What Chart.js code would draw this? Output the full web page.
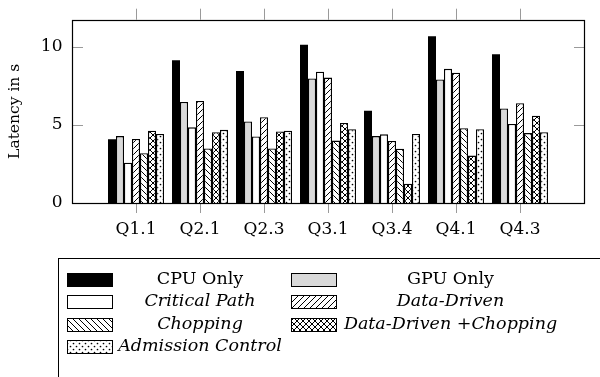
<!DOCTYPE html>
<html>
<head>
<meta charset="utf-8">
<script src="https://cdn.jsdelivr.net/npm/chart.js@4/dist/chart.umd.min.js"></script>
<style>
  html, body { margin: 0; padding: 0; background: #fff; }
  #wrap { width: 600px; height: 377px; }
</style>
</head>
<body>
<div id="wrap"><canvas id="c" width="600" height="377"></canvas></div>
<script>
// Query categories on the x axis
const queries = ['Q1.1', 'Q2.1', 'Q2.3', 'Q3.1', 'Q3.4', 'Q4.1', 'Q4.3'];

// Latency in seconds per strategy
const cpuOnly          = [4.08, 9.15, 8.46, 10.15, 5.92, 10.69, 9.54];
const gpuOnly          = [4.29, 6.48, 5.23, 7.98, 4.29, 7.92, 6.06];
const criticalPath     = [2.58, 4.85, 4.27, 8.42, 4.40, 8.60, 5.06];
const dataDriven       = [4.10, 6.54, 5.50, 8.04, 3.98, 8.35, 6.40];
const chopping         = [3.19, 3.50, 3.50, 4.00, 3.48, 4.79, 4.48];
const dataDrivenChop   = [4.63, 4.54, 4.58, 5.13, 1.23, 3.04, 5.60];
const admissionControl = [4.42, 4.69, 4.63, 4.73, 4.42, 4.73, 4.54];

const seriesNames = ['CPU Only', 'GPU Only', 'Critical Path', 'Data-Driven',
                     'Chopping', 'Data-Driven +Chopping', 'Admission Control'];
const seriesItalic = [false, false, true, true, true, true, true];

// y axis ticks and range
const yTicks = [0, 5, 10];
const yMax = 11.75;

const SERIF = "'DejaVu Serif', 'Liberation Serif', serif";

// ---- fill patterns -------------------------------------------------------
function makePattern(draw, size) {
  const c = document.createElement('canvas');
  c.width = size; c.height = size;
  const g = c.getContext('2d');
  g.fillStyle = '#fff';
  g.fillRect(0, 0, size, size);
  g.strokeStyle = '#000';
  g.fillStyle = '#000';
  g.lineWidth = 1;
  draw(g, size);
  return document.createElement('canvas').getContext('2d').createPattern(c, 'repeat');
}
function diagNE(g, s) {   // "/" lines
  g.beginPath();
  g.moveTo(-1, s + 1); g.lineTo(s + 1, -1);
  g.moveTo(-1, 1); g.lineTo(1, -1);
  g.moveTo(s - 1, s + 1); g.lineTo(s + 1, s - 1);
  g.stroke();
}
function diagNW(g, s) {   // "\" lines
  g.beginPath();
  g.moveTo(-1, -1); g.lineTo(s + 1, s + 1);
  g.moveTo(s - 1, -1); g.lineTo(s + 1, 1);
  g.moveTo(-1, s - 1); g.lineTo(1, s + 1);
  g.stroke();
}
const patNE = makePattern(diagNE, 6);
const patNW = makePattern(diagNW, 6);
const patCross = makePattern((g, s) => { diagNE(g, s); diagNW(g, s); }, 6);
const patDots = makePattern((g, s) => {
  g.beginPath(); g.arc(1.5, 1.5, 0.85, 0, Math.PI * 2); g.fill();
  g.beginPath(); g.arc(4.5, 4.5, 0.85, 0, Math.PI * 2); g.fill();
}, 6);

const fills = ['#000000', '#d9d9d9', '#ffffff', patNE, patNW, patCross, patDots];
const values = [cpuOnly, gpuOnly, criticalPath, dataDriven, chopping, dataDrivenChop, admissionControl];

// empty slot on each side of the categories
const labels = [''].concat(queries, ['']);
const pad = arr => [null].concat(arr, [null]);

const datasets = seriesNames.map((name, i) => ({
  label: name,
  data: pad(values[i]),
  backgroundColor: fills[i],
  borderColor: '#000',
  // solid black bars need no separate outline
  borderWidth: i === 0 ? 0 : 1.3,
  borderSkipped: 'bottom',
  italic: seriesItalic[i]
}));

// ---- frame and tick marks ---------------------------------------------------
const framePlugin = {
  id: 'frame',
  afterDatasetsDraw(chart) {
    const { ctx, chartArea: a, scales: { x, y } } = chart;
    ctx.save();
    ctx.strokeStyle = '#9a9a9a';
    ctx.lineWidth = 1;
    ctx.beginPath();
    queries.forEach((q, i) => {
      const px = Math.round(x.getPixelForValue(i + 1)) + 0.5;
      ctx.moveTo(px, a.bottom); ctx.lineTo(px, a.bottom + 10);
      ctx.moveTo(px, a.top - 11); ctx.lineTo(px, a.top);
    });
    yTicks.forEach(v => {
      if (v === 0) return;
      const py = Math.round(y.getPixelForValue(v)) + 0.5;
      ctx.moveTo(a.left, py); ctx.lineTo(a.left + 11, py);
      ctx.moveTo(a.right - 10, py); ctx.lineTo(a.right, py);
    });
    ctx.stroke();
    ctx.strokeStyle = '#000';
    ctx.lineWidth = 1.2;
    ctx.strokeRect(Math.round(a.left) + 0.5, Math.round(a.top) + 0.5,
                   Math.round(a.right - a.left), Math.round(a.bottom - a.top));
    ctx.restore();
  }
};

// ---- two-column legend box below the plot --------------------------------
const legendPlugin = {
  id: 'boxLegend',
  afterDraw(chart) {
    const { ctx } = chart;
    const box = { left: 58.5, top: 258.5 };
    const rowY = [279, 301.5, 324, 346.5];
    const swatchX = [67, 291];
    const textX = [200, 450.5];
    const sw = 45, sh = 13;
    ctx.save();
    ctx.strokeStyle = '#000';
    ctx.lineWidth = 1;
    ctx.strokeRect(box.left, box.top, 700, 300);
    chart.data.datasets.forEach((ds, i) => {
      const col = i % 2, row = Math.floor(i / 2);
      const cy = rowY[row];
      const top = Math.round(cy - sh / 2);
      ctx.fillStyle = ds.backgroundColor;
      ctx.fillRect(swatchX[col], top, sw, sh);
      ctx.strokeStyle = '#000';
      ctx.strokeRect(swatchX[col] + 0.5, top + 0.5, sw, sh);
      ctx.fillStyle = '#000';
      ctx.font = (ds.italic ? 'italic ' : '') + '17.5px ' + SERIF;
      ctx.textAlign = 'center';
      ctx.textBaseline = 'middle';
      ctx.fillText(ds.label, textX[col], cy);
    });
    ctx.restore();
  }
};

new Chart(document.getElementById('c'), {
  type: 'bar',
  data: { labels, datasets },
  options: {
    responsive: false,
    devicePixelRatio: 1,
    animation: false,
    layout: { padding: { top: 15, right: 10, bottom: 0, left: 0 } },
    categoryPercentage: 0.875,
    barPercentage: 1,
    plugins: { legend: { display: false }, tooltip: { enabled: false } },
    scales: {
      x: {
        type: 'category',
        offset: false,
        grid: { display: false, drawTicks: false },
        border: { display: false },
        ticks: {
          color: '#000',
          font: { family: SERIF, size: 17 },
          padding: 16,
          maxRotation: 0,
          autoSkip: false
        },
        afterFit(s) { s.height = 174; }
      },
      y: {
        min: 0,
        max: yMax,
        grid: { display: false, drawTicks: false },
        border: { display: false },
        ticks: {
          stepSize: 5,
          includeBounds: false,
          color: '#000',
          font: { family: SERIF, size: 17 },
          padding: 9.5
        },
        title: {
          display: true,
          text: 'Latency in s',
          color: '#000',
          font: { family: SERIF, size: 15.5 },
          padding: { top: 6, bottom: 0 }
        },
        afterFit(s) { s.width = 72; }
      }
    }
  },
  plugins: [framePlugin, legendPlugin]
});
</script>
</body>
</html>
